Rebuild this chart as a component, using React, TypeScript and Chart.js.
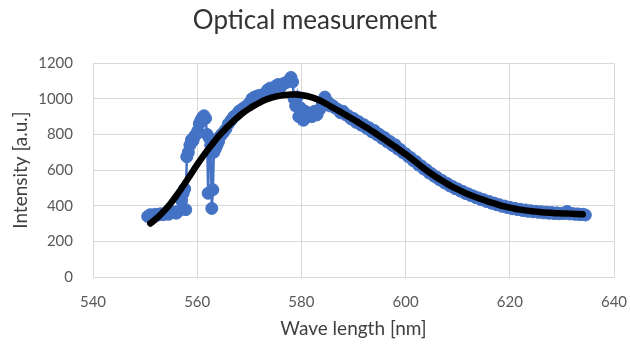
import React, { useEffect, useRef } from "react";
import { Chart, registerables } from "chart.js";

Chart.register(...registerables);

const TITLE = "Optical measurement";
const X_TITLE = "Wave length [nm]";
const Y_TITLE = "Intensity [a.u.]";

const xTicks = [540, 560, 580, 600, 620, 640];
const yTicks = [0, 200, 400, 600, 800, 1000, 1200];

const measuredWavelength = [
  550.5, 551, 551.5, 552, 552.5, 553, 553.5, 554, 554.5, 555, 555.5, 556, 556.5, 557, 557.3, 557.6, 557.8,
  558.0, 558.3, 558.6, 558.9, 559.2, 559.5, 559.8, 560.1, 560.4, 560.7, 561.0, 561.3, 561.6, 561.9, 562.1,
  562.3, 562.6, 562.8, 563.0, 563.2, 563.5, 563.8, 564.1, 564.4, 564.7, 565.0, 565.5, 566, 566.5, 567, 567.5,
  568, 568.5, 569, 569.5, 570, 570.5, 571, 571.5, 572, 572.5, 573, 573.5, 574, 574.5, 575, 575.5, 576, 576.5,
  577, 577.5, 578, 578.3, 578.6, 578.9, 579.2, 579.5, 579.8, 580.1, 580.4, 580.7, 581, 581.5, 582, 582.5, 583,
  583.5, 584, 584.5, 585, 585.5, 586, 586.5, 587, 587.5, 588, 588.5, 589, 589.5, 590, 590.5, 591, 591.5, 592,
  592.5, 593, 593.5, 594, 594.5, 595, 595.5, 596, 596.5, 597, 597.5, 598, 598.5, 599, 599.5, 600, 600.5, 601,
  601.5, 602, 602.5, 603, 603.5, 604, 604.5, 605, 605.5, 606, 606.5, 607, 607.5, 608, 608.5, 609, 609.5, 610,
  610.5, 611, 611.5, 612, 612.5, 613, 613.5, 614, 614.5, 615, 615.5, 616, 616.5, 617, 617.5, 618, 618.5, 619,
  619.5, 620, 620.5, 621, 621.5, 622, 622.5, 623, 623.5, 624, 624.5, 625, 625.5, 626, 626.5, 627, 627.5, 628,
  628.5, 629, 629.5, 630, 630.5, 631, 631.5, 632, 632.5, 633, 633.5, 634, 634.5,
];

const measuredIntensity = [
  340, 350, 345, 352, 348, 355, 350, 358, 352, 360, 365, 358, 372, 430, 470, 495, 378,
  675, 700, 740, 770, 765, 790, 800, 820, 860, 880, 895, 905, 890, 800, 470,
  780, 740, 385, 490, 700, 720, 740, 760, 790, 800, 810, 830, 860, 880, 900, 910,
  930, 940, 950, 960, 975, 1000, 1010, 1015, 1020, 1010, 1030, 1050, 1060, 1055, 1070, 1080, 1065, 1085,
  1090, 1100, 1120, 1095, 1000, 960, 1010, 900, 950, 920, 880, 930, 905, 920, 900, 930, 910,
  940, 970, 1010, 985, 960, 962, 948, 940, 922, 930, 910, 905, 888, 890, 868, 872, 852, 855,
  835, 838, 815, 822, 798, 800, 778, 782, 758, 760, 738, 742, 718, 716, 698, 692, 676, 670,
  652, 648, 628, 624, 606, 602, 584, 580, 565, 560, 546, 542, 528, 525, 511, 508, 496, 494,
  483, 480, 469, 467, 457, 455, 445, 444, 434, 434, 424, 424, 414, 415, 405, 406, 397, 398,
  390, 391, 383, 385, 378, 380, 373, 376, 369, 372, 366, 369, 363, 366, 360, 364, 358, 362,
  356, 360, 355, 358, 356, 368, 354, 356, 352, 354, 350, 352, 348,
];

const fitWavelength = [
  551, 552, 553, 554, 555, 556, 557, 558, 559, 560, 561, 562, 563, 564, 565, 566, 567, 568, 569, 570, 571,
  572, 573, 574, 575, 576, 577, 578, 579, 580, 581, 582, 583, 584, 585, 586, 587, 588, 589, 590, 591, 592,
  593, 594, 595, 596, 597, 598, 599, 600, 601, 602, 603, 604, 605, 606, 607, 608, 609, 610, 611, 612, 613,
  614, 615, 616, 617, 618, 619, 620, 621, 622, 623, 624, 625, 626, 627, 628, 629, 630, 631, 632, 633, 634,
];

const fitIntensity = [
  300, 324, 351, 382, 417, 456, 498, 542, 587, 631, 673, 713, 750, 786, 818, 848, 876, 902, 925, 945, 963,
  979, 993, 1004, 1012, 1018, 1022, 1024, 1024, 1021, 1016, 1008, 997, 984, 968, 951, 935, 918, 901, 884, 866, 848,
  830, 811, 791, 771, 751, 731, 710, 689, 667, 644, 621, 599, 578, 558, 540, 523, 506, 492, 478, 465,
  453, 442, 432, 422, 413, 404, 396, 389, 383, 378, 374, 370, 367, 364, 362, 360, 358, 357, 356, 355, 353, 352,
];

const BLUE = "#4472C4";
const FONT = "Lato, 'Open Sans', sans-serif";

export default function App() {
  const canvasRef = useRef<HTMLCanvasElement | null>(null);

  useEffect(() => {
    if (!canvasRef.current) return;
    const measured = measuredWavelength.map((x, i) => ({ x, y: measuredIntensity[i] }));
    const fit = fitWavelength.map((x, i) => ({ x, y: fitIntensity[i] }));

    const chart = new Chart(canvasRef.current, {
      type: "scatter",
      data: {
        datasets: [
          {
            label: "Fit",
            data: fit,
            showLine: true,
            borderColor: "#000000",
            backgroundColor: "#000000",
            borderWidth: 6.5,
            pointRadius: 0,
            cubicInterpolationMode: "monotone",
            borderCapStyle: "round",
            borderJoinStyle: "round",
            order: 0,
          },
          {
            label: "Measured",
            data: measured,
            showLine: true,
            borderColor: BLUE,
            backgroundColor: BLUE,
            borderWidth: 2.5,
            pointRadius: 6,
            pointBorderWidth: 1,
            pointBorderColor: BLUE,
            pointBackgroundColor: BLUE,
            order: 1,
          },
        ],
      },
      options: {
        animation: false,
        responsive: false,
        maintainAspectRatio: false,
        layout: { padding: { left: 16, right: 16, top: 0, bottom: 0 } },
        plugins: {
          legend: { display: false },
          tooltip: { enabled: false },
          title: {
            display: true,
            text: TITLE,
            color: "#333333",
            font: { family: FONT, size: 26, weight: "normal", lineHeight: 1.2 },
            padding: { top: 5, bottom: 27 },
          },
        },
        scales: {
          x: {
            type: "linear",
            min: 540,
            max: 640,
            afterBuildTicks: (scale: any) => {
              scale.ticks = xTicks.map((v) => ({ value: v }));
            },
            afterFit: (scale: any) => {
              scale.height = 68;
              scale.paddingLeft = 0;
              scale.paddingRight = 0;
            },
            grid: { color: "#d9d9d9", lineWidth: 1, drawTicks: false },
            border: { color: "#d9d9d9" },
            ticks: {
              color: "#595959",
              font: { family: FONT, size: 15 },
              padding: 16,
              callback: (v: any) => String(v),
            },
            title: {
              display: true,
              text: X_TITLE,
              color: "#404040",
              font: { family: FONT, size: 19 },
              padding: { top: 0, bottom: 5 },
            },
          },
          y: {
            type: "linear",
            min: 0,
            max: 1200,
            afterBuildTicks: (scale: any) => {
              scale.ticks = yTicks.map((v) => ({ value: v }));
            },
            afterFit: (scale: any) => {
              scale.width = 77;
            },
            grid: { color: "#d9d9d9", lineWidth: 1, drawTicks: false },
            border: { color: "#d9d9d9" },
            ticks: {
              color: "#595959",
              font: { family: FONT, size: 15 },
              padding: 20,
              callback: (v: any) => String(v),
            },
            title: {
              display: true,
              text: Y_TITLE,
              color: "#404040",
              font: { family: FONT, size: 19 },
              padding: { top: -7, bottom: 0 },
            },
          },
        },
      },
    });
    return () => chart.destroy();
  }, []);

  return (
    <div style={{ position: "fixed", left: 0, top: 0, width: 630, height: 345, background: "#fff" }}>
      <canvas ref={canvasRef} width={630} height={345} style={{ width: 630, height: 345, display: "block" }} />
    </div>
  );
}
